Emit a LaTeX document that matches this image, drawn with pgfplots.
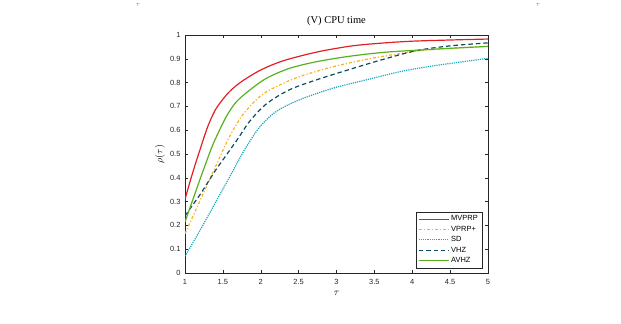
\documentclass[border=0pt]{standalone}
\usepackage{fontspec}
\setmainfont{Liberation Serif}
\newfontfamily\arial{Liberation Sans}
\usepackage{pgfplots}
\pgfplotsset{compat=1.18}
\definecolor{cRed}{RGB}{228,30,36}
\definecolor{cOrange}{RGB}{255,176,32}
\definecolor{cCyan}{RGB}{24,168,192}
\definecolor{cTeal}{RGB}{10,76,96}
\definecolor{cGreen}{RGB}{88,176,30}
\definecolor{axgray}{RGB}{38,38,38}
\begin{document}
\begin{tikzpicture}
\path[use as bounding box] (0,0) rectangle (621bp,324bp);
\node[text=gray, font=\fontsize{7}{8}\selectfont] at (138bp,319bp) {$\tau$};
\node[text=gray, font=\fontsize{7}{8}\selectfont] at (538bp,319bp) {$\tau$};
\begin{axis}[
  at={(185bp,51bp)}, anchor=south west,
  scale only axis, width=303bp, height=238bp,
  xmin=1, xmax=5, ymin=0, ymax=1,
  xtick={1,1.5,...,5}, ytick={0,0.1,...,1},
  xticklabels={1,1.5,2,2.5,3,3.5,4,4.5,5},
  yticklabels={0,0.1,0.2,0.3,0.4,0.5,0.6,0.7,0.8,0.9,1},
  tick align=inside, tick pos=both,
  major tick length=3bp,
  axis line style={axgray, line width=0.5pt},
  every tick/.style={axgray, line width=0.5pt},
  tick label style={font=\arial\fontsize{7.5}{9}\selectfont, text=axgray},
  xticklabel style={yshift=-3bp},
  yticklabel style={xshift=-1bp},
  /pgf/number format/assume math mode=true,
  title={(V) CPU time},
  title style={font=\fontsize{10.5}{12}\selectfont, at={(rel axis cs:0.5,1)}, anchor=south, yshift=0pt},
  xlabel={$\tau$}, ylabel={$\rho(\tau)$},
  xlabel style={at={(rel axis cs:0.5,0)}, anchor=center, yshift=-20bp},
  ylabel style={at={(rel axis cs:0,0.5)}, anchor=center, yshift=25bp},
  legend style={at={(rel axis cs:0.98,0.021)}, anchor=south east, font=\arial\fontsize{7.5}{9}\selectfont,
    draw=axgray, fill=white, inner sep=2pt, row sep=-0.3pt},
  legend cell align=left,
  legend image code/.code={\draw[#1] (0bp,0bp) -- (30bp,0bp);},
  every axis plot/.append style={line width=1.2pt},
]
\addplot[color=cRed, draw=cRed, smooth] coordinates {(1,0.31)(1.1,0.42)(1.2,0.52)(1.3,0.615)(1.4,0.685)(1.5,0.73)(1.6,0.766)(1.75,0.805)(2,0.853)(2.3,0.892)(2.75,0.929)(3.2,0.954)(3.6,0.966)(4,0.974)(4.5,0.979)(5,0.983)};
\addlegendentry{MVPRP}
\addplot[color=cOrange, draw=cOrange, dash dot, smooth] coordinates {(1,0.165)(1.1,0.235)(1.2,0.305)(1.3,0.375)(1.4,0.445)(1.5,0.515)(1.6,0.58)(1.7,0.635)(1.8,0.68)(2,0.745)(2.21,0.784)(2.52,0.826)(2.96,0.867)(3.4,0.898)(3.84,0.922)(4.27,0.939)(5,0.953)};
\addlegendentry{VPRP+}
\addplot[color=cCyan, draw=cCyan, densely dotted, smooth] coordinates {(1,0.07)(1.2,0.18)(1.4,0.295)(1.6,0.41)(1.79,0.52)(1.99,0.615)(2.21,0.68)(2.52,0.729)(2.96,0.777)(3.4,0.812)(3.84,0.846)(4.27,0.87)(5,0.902)};
\addlegendentry{SD}
\addplot[color=cTeal, draw=cTeal, dash pattern=on 4.5pt off 3pt, smooth] coordinates {(1,0.24)(1.1,0.285)(1.2,0.33)(1.3,0.38)(1.4,0.43)(1.5,0.475)(1.6,0.52)(1.7,0.565)(1.86,0.64)(2.08,0.712)(2.38,0.77)(2.74,0.812)(3.18,0.856)(3.62,0.898)(4.05,0.934)(4.49,0.954)(5,0.967)};
\addlegendentry{VHZ}
\addplot[color=cGreen, draw=cGreen, smooth] coordinates {(1,0.215)(1.1,0.305)(1.2,0.395)(1.34,0.517)(1.42,0.576)(1.55,0.66)(1.68,0.72)(1.86,0.77)(2.08,0.819)(2.38,0.86)(2.74,0.888)(3.18,0.911)(3.62,0.927)(4.05,0.936)(4.5,0.944)(5,0.952)};
\addlegendentry{AVHZ}
\end{axis}
\end{tikzpicture}
\end{document}
